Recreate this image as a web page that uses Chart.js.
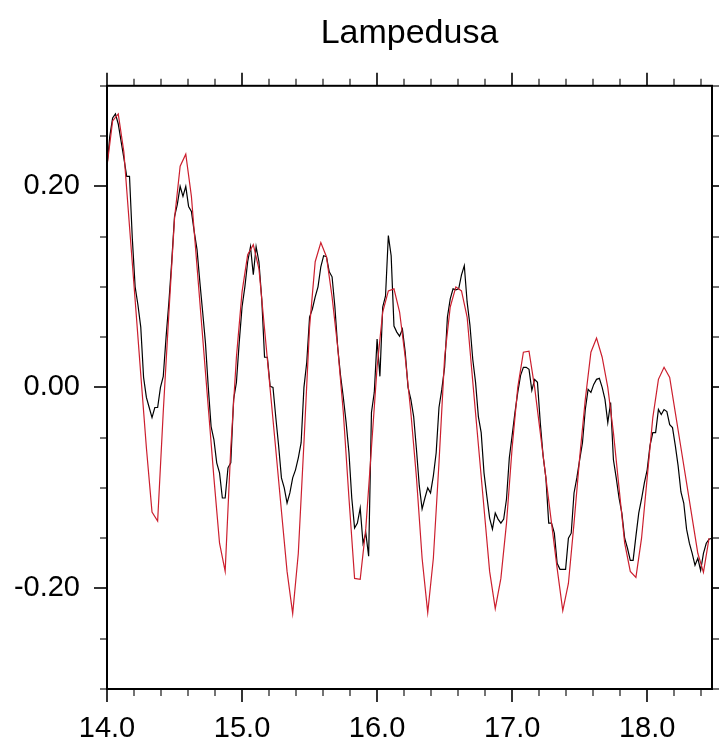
<!DOCTYPE html>
<html><head><meta charset="utf-8">
<script src="https://cdn.jsdelivr.net/npm/chart.js@4.4.1/dist/chart.umd.min.js"></script>
<style>html,body{margin:0;padding:0;background:#fff;}#wrap{width:719px;height:751px;}</style>
</head><body><div id="wrap"><canvas id="c" width="719" height="751"></canvas></div>
<script>
const chartTitle = "Lampedusa";
const startDay = 14.0;
const modelStepDays = 1 / 24;
const obsStepDays = 1 / 48;
const modelValues = [
0.220,0.265,0.272,0.234,0.160,0.087,0.013,-0.060,-0.124,-0.133,
-0.024,0.074,0.168,0.220,0.232,0.190,0.120,0.050,-0.020,-0.090,
-0.155,-0.183,-0.060,0.030,0.095,0.132,0.142,0.118,0.058,-0.002,
-0.062,-0.123,-0.183,-0.225,-0.165,-0.055,0.060,0.125,0.144,0.130,
0.090,0.040,-0.025,-0.110,-0.190,-0.191,-0.140,-0.060,0.020,0.075,
0.096,0.098,0.075,0.030,-0.025,-0.090,-0.170,-0.224,-0.170,-0.075,
0.030,0.080,0.100,0.096,0.070,0.006,-0.057,-0.120,-0.183,-0.220,
-0.190,-0.135,-0.060,0.000,0.035,0.036,0.000,-0.045,-0.090,-0.135,
-0.180,-0.222,-0.195,-0.135,-0.070,-0.012,0.035,0.049,0.030,0.000,
-0.045,-0.100,-0.155,-0.183,-0.189,-0.150,-0.090,-0.030,0.008,0.020,
0.010,-0.025,-0.060,-0.095,-0.130,-0.165,-0.184,-0.150
];
const obsValues = [
0.220,0.250,0.268,0.272,0.262,0.245,0.228,0.210,0.210,0.148,
0.100,0.082,0.060,0.010,-0.010,-0.020,-0.030,-0.020,-0.020,0.000,
0.011,0.050,0.085,0.125,0.170,0.182,0.200,0.190,0.200,0.180,
0.175,0.155,0.137,0.105,0.075,0.044,0.000,-0.039,-0.052,-0.075,
-0.085,-0.110,-0.110,-0.080,-0.075,-0.012,0.005,0.045,0.080,0.100,
0.125,0.140,0.112,0.140,0.125,0.088,0.030,0.030,0.001,0.000,
-0.030,-0.058,-0.090,-0.100,-0.115,-0.105,-0.090,-0.082,-0.070,-0.055,
0.000,0.025,0.070,0.078,0.090,0.100,0.120,0.131,0.130,0.115,
0.110,0.080,0.040,0.012,-0.010,-0.035,-0.065,-0.110,-0.140,-0.135,
-0.120,-0.155,-0.145,-0.168,-0.025,-0.005,0.048,0.011,0.080,0.091,
0.151,0.131,0.061,0.055,0.051,0.058,0.035,0.000,-0.012,-0.029,
-0.062,-0.098,-0.121,-0.110,-0.100,-0.105,-0.088,-0.065,-0.020,-0.002,
0.020,0.070,0.088,0.098,0.097,0.098,0.112,0.121,0.085,0.062,
0.028,0.005,-0.029,-0.045,-0.085,-0.108,-0.130,-0.141,-0.125,-0.131,
-0.135,-0.131,-0.111,-0.070,-0.048,-0.025,-0.005,0.012,0.020,0.020,
0.018,-0.003,0.008,0.005,-0.035,-0.068,-0.090,-0.135,-0.135,-0.145,
-0.175,-0.181,-0.181,-0.181,-0.150,-0.145,-0.105,-0.090,-0.072,-0.055,
-0.022,-0.002,-0.005,0.003,0.008,0.009,0.000,-0.012,-0.035,-0.015,
-0.072,-0.090,-0.110,-0.125,-0.150,-0.160,-0.172,-0.172,-0.148,-0.125,
-0.111,-0.095,-0.082,-0.058,-0.045,-0.045,-0.022,-0.027,-0.022,-0.024,
-0.037,-0.040,-0.058,-0.078,-0.104,-0.115,-0.141,-0.155,-0.165,-0.177,
-0.170,-0.182,-0.165,-0.155,-0.151,-0.150
];
const xMajorTicks = [14.0, 15.0, 16.0, 17.0, 18.0];
const xMinorTicks = [14.2,14.4,14.6,14.8,15.2,15.4,15.6,15.8,16.2,16.4,16.6,16.8,17.2,17.4,17.6,17.8,18.2,18.4];
const yMajorTicks = [-0.2, 0.0, 0.2];
const yMinorTicks = [-0.3,-0.25,-0.15,-0.1,-0.05,0.05,0.1,0.15,0.25,0.3];
const xLimits = [14.0, 18.48];
const yLimits = [-0.3, 0.3];

const modelPoints = modelValues.map((v, i) => ({x: startDay + i * modelStepDays, y: v}));
const obsPoints = obsValues.map((v, i) => ({x: startDay + i * obsStepDays, y: v}));

const frameTicks = {
  id: 'frameTicks',
  afterDatasetsDraw(chart) {
    const ctx = chart.ctx, a = chart.chartArea, xs = chart.scales.x, ys = chart.scales.y;
    ctx.save();
    ctx.strokeStyle = '#000';
    const seg = (x1, y1, x2, y2) => { ctx.beginPath(); ctx.moveTo(x1, y1); ctx.lineTo(x2, y2); ctx.stroke(); };
    ctx.lineWidth = 1.6;
    xMajorTicks.forEach(v => { const p = Math.round(xs.getPixelForValue(v)); seg(p, a.bottom, p, a.bottom + 13); seg(p, a.top, p, a.top - 13); });
    yMajorTicks.forEach(v => { const p = Math.round(ys.getPixelForValue(v)); seg(a.left, p, a.left - 13, p); seg(a.right, p, a.right + 13, p); });
    ctx.lineWidth = 1.1;
    xMinorTicks.forEach(v => { const p = Math.round(xs.getPixelForValue(v)); seg(p, a.bottom, p, a.bottom + 7); seg(p, a.top, p, a.top - 7); });
    yMinorTicks.forEach(v => { const p = Math.round(ys.getPixelForValue(v)); seg(a.left, p, a.left - 7, p); seg(a.right, p, a.right + 7, p); });
    ctx.lineWidth = 2;
    ctx.strokeRect(a.left, a.top, a.right - a.left, a.bottom - a.top);
    ctx.restore();
  }
};

new Chart(document.getElementById('c'), {
  type: 'line',
  data: {
    datasets: [
      {label: 'model', data: modelPoints, borderColor: '#cc1f2e', borderWidth: 1.2, pointRadius: 0, tension: 0, fill: false},
      {label: 'observed', data: obsPoints, borderColor: '#000000', borderWidth: 1.2, pointRadius: 0, tension: 0, fill: false}
    ]
  },
  options: {
    responsive: false,
    animation: false,
    events: [],
    layout: {padding: {left: 0, right: 7, top: 0, bottom: 0}},
    plugins: {
      legend: {display: false},
      tooltip: {enabled: false},
      title: {display: true, fullSize: false, text: chartTitle, color: '#000',
        font: {family: 'Liberation Sans', size: 34, weight: 'normal'},
        padding: {top: 13, bottom: 32}}
    },
    scales: {
      x: {
        type: 'linear', min: xLimits[0], max: xLimits[1],
        afterBuildTicks: s => { s.ticks = xMajorTicks.map(v => ({value: v})); },
        afterFit: s => { s.height = 62; },
        grid: {display: true, drawOnChartArea: false, drawTicks: true, tickLength: 13, tickColor: 'rgba(0,0,0,0)', color: 'rgba(0,0,0,0)'},
        border: {display: false},
        ticks: {color: '#000', font: {family: 'Liberation Sans', size: 29}, padding: 10, maxRotation: 0,
          callback: v => Number(v).toFixed(1)}
      },
      y: {
        type: 'linear', min: yLimits[0], max: yLimits[1],
        afterBuildTicks: s => { s.ticks = yMajorTicks.map(v => ({value: v})); },
        afterFit: s => { s.width = 107; },
        grid: {display: true, drawOnChartArea: false, drawTicks: true, tickLength: 13, tickColor: 'rgba(0,0,0,0)', color: 'rgba(0,0,0,0)'},
        border: {display: false},
        ticks: {color: '#000', font: {family: 'Liberation Sans', size: 29}, padding: 14,
          callback: v => Number(v).toFixed(2)}
      }
    }
  },
  plugins: [frameTicks]
});
</script></body></html>
